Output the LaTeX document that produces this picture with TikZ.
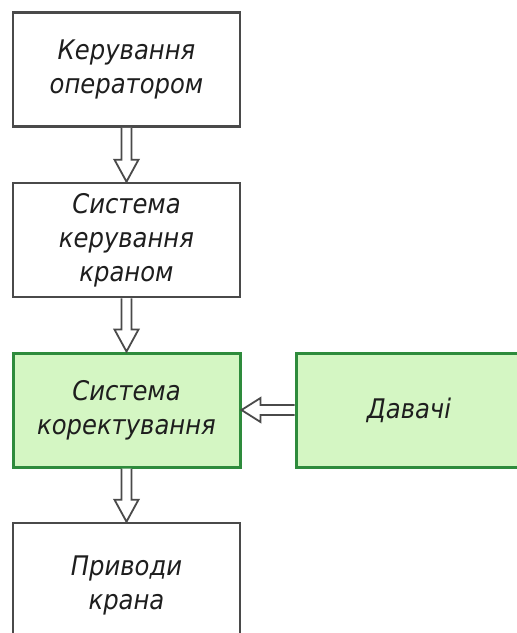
\documentclass[tikz,border=0pt]{standalone}
\usepackage{fontspec}
\setmainfont{DejaVu Sans Condensed}
\usetikzlibrary{calc}
\definecolor{edgegray}{HTML}{4A4A4A}
\definecolor{textgray}{HTML}{1E1E1E}
\definecolor{corrfill}{HTML}{D4F6C3}
\definecolor{corredge}{HTML}{2E8B3C}
\tikzset{
  block/.style={draw=edgegray, line width=2.6pt, fill=white, minimum width=227pt,
    minimum height=114pt, align=center, font=\fontsize{27}{34}\selectfont\itshape,
    text=textgray, inner sep=0pt},
  greenblock/.style={block, draw=corredge, line width=3pt, fill=corrfill},
  hollow/.style={draw=edgegray, line width=1.8pt, fill=white, line join=miter}
}
\newcommand\flowdown[2]{%
  \draw[hollow] ($(#1.south)+(-5,0)$) -- ($(#2.north)+(-5,-22)$) -- ($(#2.north)+(-12,-22)$)
    -- (#2.north) -- ($(#2.north)+(12,-22)$) -- ($(#2.north)+(5,-22)$) -- ($(#1.south)+(5,0)$);}
\begin{document}
\begin{tikzpicture}[x=1pt,y=-1pt]
  \useasboundingbox (0,0) rectangle (517,633);
  \clip (0,0) rectangle (517,633);
  \fill[white] (0,0) rectangle (517,633);
  \node[block] (oper) at (126.5,69.5) {Керування\\оператором};
  \node[block] (ctrl) at (126.5,240) {Система\\керування\\краном};
  \node[greenblock] (corr) at (126.5,410) {Система\\коректування};
  \node[greenblock, minimum width=226pt] (sens) at (409,410) {Давачі};
  \node[block, minimum height=124pt] (drive) at (126.5,585) {Приводи\\крана};
  \flowdown{oper}{ctrl}
  \flowdown{ctrl}{corr}
  \flowdown{corr}{drive}
  \draw[hollow] ($(sens.west)+(0,-5)$) -- ($(corr.east)+(19,-5)$) -- ($(corr.east)+(19,-12)$)
    -- (corr.east) -- ($(corr.east)+(19,12)$) -- ($(corr.east)+(19,5)$) -- ($(sens.west)+(0,5)$);
\end{tikzpicture}
\end{document}
